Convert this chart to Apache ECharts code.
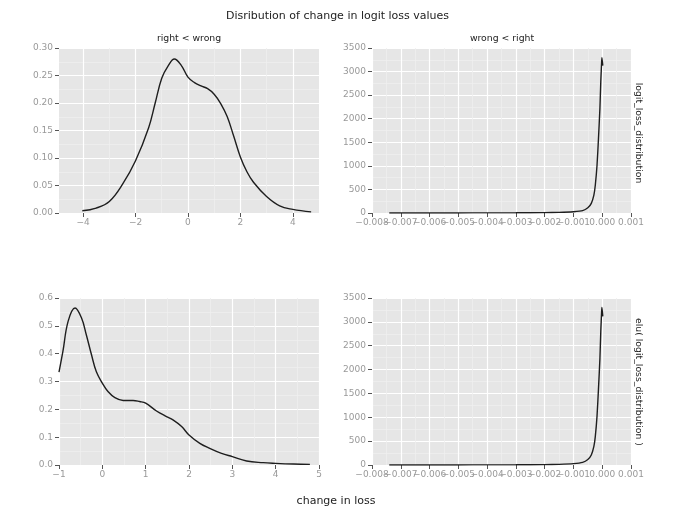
<!DOCTYPE html>
<html><head><meta charset="utf-8">
<script src="https://cdn.jsdelivr.net/npm/echarts@6/dist/echarts.min.js"></script>
<style>html,body{margin:0;padding:0;background:#fff}#c{width:675px;height:517px}</style>
</head><body><div id="c"></div>
<script>
// ---- data ----
const tlX = [-4.03, -3.5, -3.0, -2.5, -2.0, -1.5, -1.25, -1.0, -0.75, -0.52, -0.25, 0.0, 0.25, 0.5, 0.75, 1.0, 1.25, 1.5, 1.75, 2.0, 2.25, 2.5, 3.0, 3.5, 4.0, 4.7];
const tlY = [0.004, 0.009, 0.021, 0.052, 0.095, 0.155, 0.200, 0.245, 0.268, 0.280, 0.268, 0.247, 0.237, 0.231, 0.226, 0.216, 0.199, 0.175, 0.139, 0.102, 0.075, 0.056, 0.030, 0.013, 0.0066, 0.002];

const trX = [-0.0074, -0.006, -0.005, -0.004, -0.003, -0.002, -0.0015, -0.001, -0.00068, -0.0005, -0.00038, -0.00029, -0.00024, -0.00018, -0.00013, -0.00008, -0.00005, -0.00002, -0.00001, 0.00002];
const trY = [0.5, 1, 1.5, 2.5, 4, 8, 14, 28, 50, 110, 205, 380, 594, 1018, 1584, 2220, 2786, 3210, 3295, 3125];

const blX = [-1.0, -0.91, -0.79, -0.63, -0.48, -0.37, -0.25, -0.14, 0.0, 0.13, 0.29, 0.48, 0.71, 0.86, 1.0, 1.25, 1.48, 1.63, 1.83, 2.0, 2.25, 2.48, 2.75, 3.0, 3.33, 3.71, 4.0, 4.41, 4.79];
const blY = [0.334, 0.408, 0.516, 0.564, 0.528, 0.468, 0.396, 0.336, 0.294, 0.264, 0.242, 0.232, 0.232, 0.228, 0.222, 0.194, 0.174, 0.162, 0.138, 0.108, 0.078, 0.060, 0.042, 0.030, 0.0144, 0.0084, 0.006, 0.0036, 0.0024];

const brX = [-0.0074, -0.006, -0.005, -0.004, -0.003, -0.002, -0.0015, -0.001, -0.00068, -0.0005, -0.00038, -0.00029, -0.00024, -0.00018, -0.00013, -0.00008, -0.00005, -0.00002, -0.00001, 0.00002];
const brY = [0.5, 1, 1.5, 2.5, 4, 8, 14, 28, 55, 115, 210, 390, 600, 1030, 1600, 2230, 2800, 3220, 3300, 3115];

const tlXTicks = [-4, -2, 0, 2, 4];
const tlXMinor = [-3, -1, 1, 3];
const rXLabelsA = [-0.008, -0.006, -0.004, -0.002, 0.0];
const rXLabelsB = [-0.007, -0.005, -0.003, -0.001, 0.001];

const titleText = 'Disribution of change in logit loss values';
const xLabelText = 'change in loss';
const colLabels = ['right < wrong', 'wrong < right'];
const rowLabels = ['logit_loss_distribution', 'elu( logit_loss_distribution )'];

// ---- styling ----
const FONT = 'DejaVu Sans';
const LBL = '#999999';
const TICK = '#555555';
const BG = '#e6e6e6';
const MAJOR = '#ffffff';
const MINOR = '#efefef';
const minus = s => String(s).replace(/-/g, '\u2212');
const fmt3 = v => minus((Math.abs(v) < 1e-12 ? 0 : v).toFixed(3));

const zip = (xs, ys) => xs.map((x, i) => [x, ys[i]]);

const grids = [
  {left: 59, top: 48, width: 260, height: 165},
  {left: 372, top: 48, width: 259, height: 165},
  {left: 59, top: 298, width: 260, height: 167},
  {left: 372, top: 298, width: 259, height: 167}
].map(g => Object.assign(g, {show: true, backgroundColor: BG, borderWidth: 0, containLabel: false}));

const labX = extra => Object.assign({color: LBL, fontFamily: FONT, fontSize: 9, margin: 5, hideOverlap: false}, extra);
const labY = extra => Object.assign({color: LBL, fontFamily: FONT, fontSize: 9, margin: 6, hideOverlap: false, showMinLabel: true, showMaxLabel: true}, extra);
const tick = extra => Object.assign({show: true, length: 4, lineStyle: {color: TICK, width: 1}}, extra);
const majorLine = {show: true, lineStyle: {color: MAJOR, width: 1.2}};

function baseAxis(extra) {
  return Object.assign({
    type: 'value',
    axisLine: {show: false, onZero: false},
    axisTick: tick({}),
    axisLabel: labX({}),
    splitLine: majorLine,
    minorTick: {show: false, splitNumber: 2},
    minorSplitLine: {show: true, lineStyle: {color: MINOR, width: 0.8}}
  }, extra);
}
function helperAxis(extra) {
  return Object.assign({
    type: 'value', position: 'bottom', axisLine: {show: false, onZero: false},
    axisTick: {show: false}, axisLabel: {show: false},
    splitLine: {show: false}, minorSplitLine: {show: false}
  }, extra);
}

const xAxis = [
  // 0: TL main
  baseAxis({gridIndex: 0, position: 'bottom', min: -4.92, max: 5.0,
    axisTick: tick({customValues: tlXTicks}),
    axisLabel: labX({customValues: tlXTicks, formatter: v => minus(v)}),
    minorSplitLine: {show: false}}),
  // 1: TR
  baseAxis({gridIndex: 1, position: 'bottom', min: -0.008, max: 0.001, interval: 0.001,
    axisTick: tick({customValues: rXLabelsA}),
    axisLabel: labX({customValues: rXLabelsA, formatter: fmt3})}),
  // 2: BL
  baseAxis({gridIndex: 2, position: 'bottom', min: -1, max: 5, interval: 1,
    axisLabel: labX({showMinLabel: true, showMaxLabel: true, formatter: v => minus(Math.round(v))})}),
  // 3: BR
  baseAxis({gridIndex: 3, position: 'bottom', min: -0.008, max: 0.001, interval: 0.001,
    axisTick: tick({customValues: rXLabelsA}),
    axisLabel: labX({customValues: rXLabelsA, formatter: fmt3})}),
  // 4: TL minor grid helper
  helperAxis({gridIndex: 0, min: -4.92, max: 5.0,
    axisTick: {show: false, customValues: tlXMinor},
    splitLine: {show: true, lineStyle: {color: MINOR, width: 0.8}}}),
  // 5: TR odd labels
  helperAxis({gridIndex: 1, min: -0.008, max: 0.001,
    axisLabel: labX({show: true, customValues: rXLabelsB, formatter: fmt3}),
    axisTick: tick({customValues: rXLabelsB}),
    splitLine: majorLine}),
  // 6: BR odd labels
  helperAxis({gridIndex: 3, min: -0.008, max: 0.001,
    axisLabel: labX({show: true, customValues: rXLabelsB, formatter: fmt3}),
    axisTick: tick({customValues: rXLabelsB}),
    splitLine: majorLine})
];

const yAxis = [
  baseAxis({gridIndex: 0, position: 'left', min: 0, max: 0.3, interval: 0.05,
    axisLabel: labY({formatter: v => v.toFixed(2)})}),
  baseAxis({gridIndex: 1, position: 'left', min: 0, max: 3500, interval: 500,
    axisLabel: labY({formatter: v => String(Math.round(v))})}),
  baseAxis({gridIndex: 2, position: 'left', min: 0, max: 0.6, interval: 0.1,
    axisLabel: labY({formatter: v => v.toFixed(1)})}),
  baseAxis({gridIndex: 3, position: 'left', min: 0, max: 3500, interval: 500,
    axisLabel: labY({formatter: v => String(Math.round(v))})})
];

const lineStyle = {color: '#1e1e1e', width: 1.4};
function mk(i, data, sm) {
  return {type: 'line', xAxisIndex: i, yAxisIndex: i, data: data, showSymbol: false,
    smooth: sm, lineStyle: lineStyle, itemStyle: {color: '#1e1e1e'}, silent: true, animation: false};
}

const txt = (x, y, text, size, rot) => ({
  type: 'text', x: x, y: y, rotation: rot || 0,
  style: {text: text, fill: '#222', font: size + 'px "' + FONT + '"', align: 'center', verticalAlign: 'middle'}
});

const option = {
  animation: false,
  backgroundColor: '#ffffff',
  title: {text: titleText, left: 'center', top: 11, padding: 0,
    textStyle: {fontFamily: FONT, fontSize: 11, fontWeight: 'normal', color: '#222'}},
  grid: grids,
  xAxis: xAxis,
  yAxis: yAxis,
  series: [mk(0, zip(tlX, tlY), 0.4), mk(1, zip(trX, trY), 0.2), mk(2, zip(blX, blY), 0.4), mk(3, zip(brX, brY), 0.2)],
  graphic: [
    txt(189, 39, colLabels[0], 9.3),
    txt(502, 39, colLabels[1], 9.3),
    txt(638, 133, rowLabels[0], 9.3, -Math.PI / 2),
    txt(638, 382, rowLabels[1], 9.3, -Math.PI / 2),
    txt(336, 501, xLabelText, 11)
  ]
};

const chart = echarts.init(document.getElementById('c'), null, {renderer: 'canvas'});
chart.setOption(option);
</script></body></html>
